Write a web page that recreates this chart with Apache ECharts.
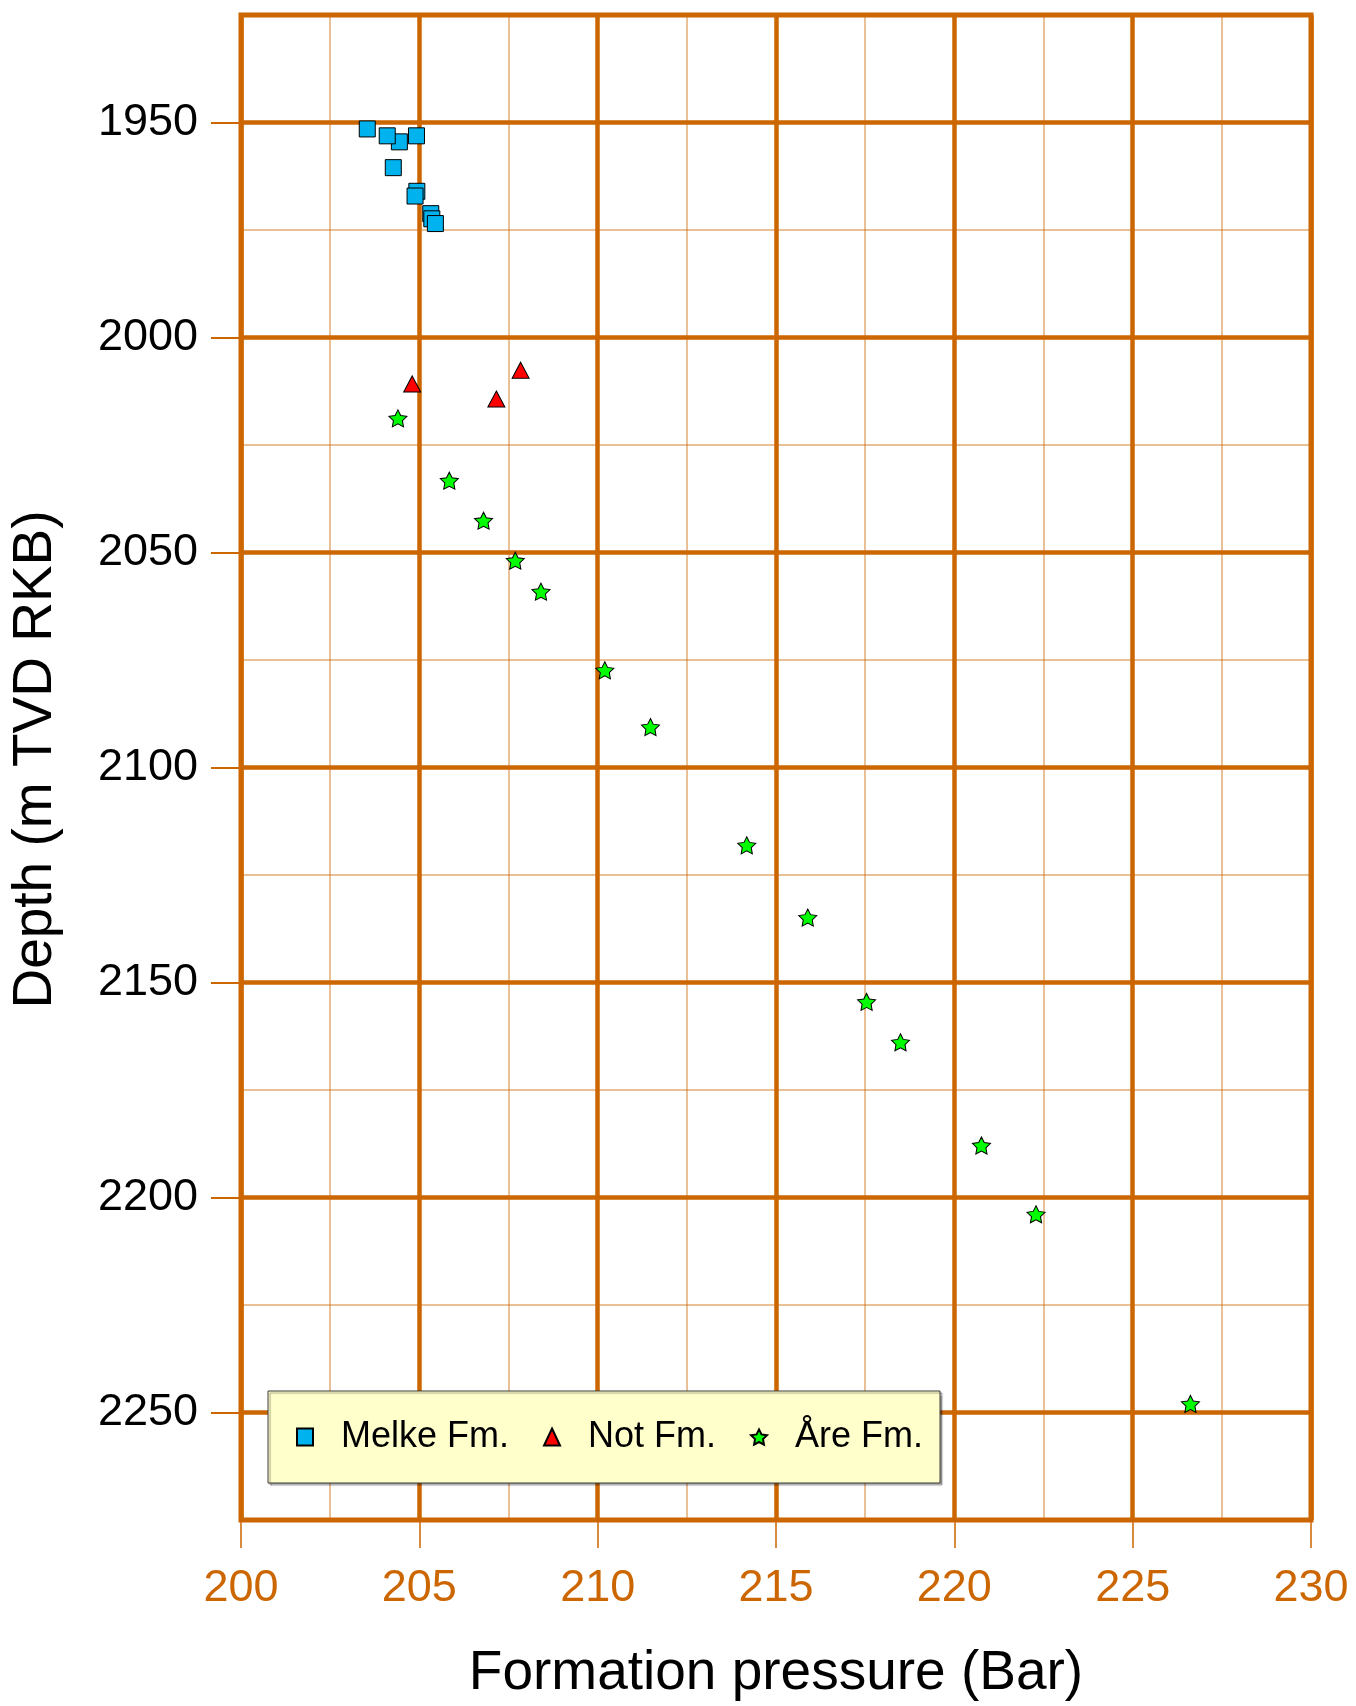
<!DOCTYPE html>
<html><head><meta charset="utf-8">
<script src="https://cdn.jsdelivr.net/npm/echarts@6/dist/echarts.min.js"></script>
<style>html,body{margin:0;padding:0;background:#fff}#c{width:1356px;height:1706px}</style>
</head><body><div id="c"></div>
<script>
const xTicks = [200, 205, 210, 215, 220, 225, 230];
const yTicks = [1950, 2000, 2050, 2100, 2150, 2200, 2250];
const yMinor = [1975, 2025, 2075, 2125, 2175, 2225];

const melke = [
  [203.54, 1951.5], [204.44, 1954.5], [204.10, 1953.1], [204.92, 1953.1],
  [204.27, 1960.5], [204.93, 1966.0], [204.88, 1967.1],
  [205.32, 1971.2], [205.35, 1972.4], [205.45, 1973.5]
];
const notFm = [
  [204.80, 2010.8], [207.84, 2007.6], [207.16, 2014.3]
];
const are = [
  [204.40, 2018.8], [205.84, 2033.3], [206.80, 2042.6], [207.69, 2051.9],
  [208.41, 2059.1], [210.20, 2077.4], [211.48, 2090.6], [214.18, 2118.1],
  [215.89, 2134.9], [217.54, 2154.5], [218.49, 2163.9], [220.76, 2187.9],
  [222.29, 2203.9], [226.62, 2248.0]
];

const STAR = 'path://M50 0 L64.7 29.8 L97.6 34.5 L73.8 57.7 L79.4 90.5 L50 75 L20.6 90.5 L26.2 57.7 L2.4 34.5 L35.3 29.8 Z';
const ORANGE = '#CC6600';
const MINOR = 'rgba(204,102,0,0.55)';
const FONT = 'Liberation Sans, Arial, Helvetica, sans-serif';

const chart = echarts.init(document.getElementById('c'), null, {renderer: 'canvas'});
chart.setOption({
  animation: false,
  backgroundColor: '#ffffff',
  textStyle: {fontFamily: FONT},
  grid: {
    left: 240, top: 15, width: 1071, height: 1505,
    show: true, borderColor: ORANGE, borderWidth: 5, backgroundColor: 'transparent'
  },
  xAxis: [
    {
      type: 'value', min: xTicks[0], max: xTicks[xTicks.length - 1], interval: 5,
      position: 'bottom', z: 1,
      axisLine: {show: false},
      axisTick: {show: true, length: 28, lineStyle: {color: ORANGE, width: 1.5}},
      axisLabel: {show: true, color: ORANGE, fontSize: 45, fontFamily: FONT, margin: 46,
                  showMinLabel: true, showMaxLabel: true,
                  formatter: function (v) { return String(v); }},
      splitLine: {show: true, lineStyle: {color: ORANGE, width: 4.5}},
      name: 'Formation pressure (Bar)', nameLocation: 'middle', nameGap: 126,
      nameTextStyle: {fontSize: 55, color: '#000', fontFamily: FONT}
    },
    {
      type: 'value', min: xTicks[0], max: xTicks[xTicks.length - 1], interval: 2.5,
      position: 'top', z: 0,
      axisLine: {show: false}, axisTick: {show: false}, axisLabel: {show: false},
      splitLine: {show: true, lineStyle: {color: MINOR, width: 1.5}}
    }
  ],
  yAxis: [
    {
      type: 'value', min: 1925, max: 2275, interval: 25, inverse: true,
      position: 'left', z: 1,
      axisLine: {show: false},
      axisTick: {show: true, customValues: yTicks, length: 30, lineStyle: {color: ORANGE, width: 2}},
      axisLabel: {show: true, customValues: yTicks, color: '#000', fontSize: 45, fontFamily: FONT, margin: 43,
                  formatter: function (v) { return String(v); }},
      splitLine: {show: true, lineStyle: {color: ORANGE, width: 4.5}},
      name: 'Depth (m TVD RKB)', nameLocation: 'middle', nameGap: 178,
      nameTextStyle: {fontSize: 55, color: '#000', fontFamily: FONT, padding: [0, 0, 0, 16]}
    },
    {
      type: 'value', min: 1925, max: 2275, interval: 25, inverse: true,
      position: 'right', z: 0,
      axisLine: {show: false},
      axisTick: {show: false, customValues: yMinor},
      axisLabel: {show: false, customValues: yMinor},
      splitLine: {show: true, lineStyle: {color: MINOR, width: 1.5}}
    }
  ],
  legend: {
    left: 268, top: 1391, orient: 'horizontal',
    padding: [26, 17, 26, 28],
    itemWidth: 16, itemHeight: 17, itemGap: 34,
    backgroundColor: '#FFFFCC', borderColor: '#3a3a3a', borderWidth: 1,
    shadowColor: 'rgba(0,0,0,0.35)', shadowOffsetX: 2, shadowOffsetY: 2, shadowBlur: 1,
    textStyle: {fontSize: 36, fontFamily: FONT, color: '#000', lineHeight: 40, padding: [0, 0, 0, 23]},
    data: ['Melke Fm.', 'Not Fm.', 'Åre Fm.']
  },
  series: [
    {
      name: 'Melke Fm.', type: 'scatter', xAxisIndex: 0, yAxisIndex: 0, z: 3,
      data: melke, symbol: 'rect', symbolSize: 16,
      itemStyle: {color: '#00B2EE', borderColor: '#000', borderWidth: 1, opacity: 1}
    },
    {
      name: 'Not Fm.', type: 'scatter', xAxisIndex: 0, yAxisIndex: 0, z: 3,
      data: notFm, symbol: 'triangle', symbolSize: [17, 16],
      itemStyle: {color: '#FF0000', borderColor: '#000', borderWidth: 1, opacity: 1}
    },
    {
      name: 'Åre Fm.', type: 'scatter', xAxisIndex: 0, yAxisIndex: 0, z: 3,
      data: are, symbol: STAR, symbolSize: [18, 17],
      itemStyle: {color: '#00FF00', borderColor: '#000', borderWidth: 1, opacity: 1}
    }
  ]
});
</script></body></html>
